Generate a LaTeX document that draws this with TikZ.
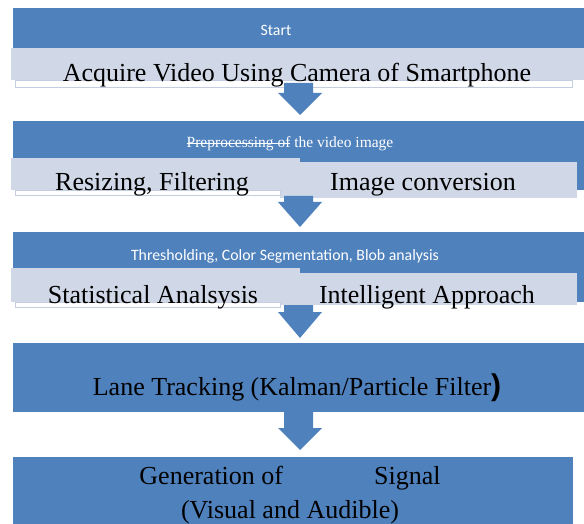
\documentclass[tikz,border=0pt]{standalone}
\usepackage{fontspec}
\setmainfont{Liberation Serif}
\newfontfamily\calib{Carlito}
\newfontfamily\arialf{Liberation Sans}
\definecolor{hblue}{HTML}{4F81BD}
\definecolor{lblue}{HTML}{D0D8E8}
\definecolor{sline}{HTML}{C4CEE0}
\newlength\strklen
\newcommand{\strk}[1]{\settowidth{\strklen}{#1}\rlap{\rule[0.3em]{\strklen}{0.6pt}}#1}
\tikzset{
  rbox/.style={inner sep=0pt, outer sep=0pt, anchor=north west, draw=none},
  head/.style={rbox, fill=hblue},
  lite/.style={rbox, fill=lblue},
  strip/.style={rbox, fill=white, draw=sline, line width=0.8pt},
  big/.style={anchor=base, inner sep=0pt, font=\rmfamily\fontsize{26}{30}\selectfont},
  smallw/.style={anchor=base, inner sep=0pt, text=white, font=\calib\fontsize{15.8}{18}\selectfont},
  serifw/.style={anchor=base, inner sep=0pt, text=white, font=\rmfamily\fontsize{15.5}{18}\selectfont},
}
\usetikzlibrary{calc}
\newcommand{\blkarrow}[3]{%
  \fill[hblue] ($(#1)+(-16,0)$) -- ($(#1)+(13,0)$) -- ($(#1)+(13,#2)$) -- ($(#1)+(22,#2)$)
    -- ($(#1)+(0,#3)$) -- ($(#1)+(-22,#2)$) -- ($(#1)+(-16,#2)$) -- cycle;}
\begin{document}
\begin{tikzpicture}[x=1pt,y=-1pt]
\useasboundingbox (0,0) rectangle (584,524);
% block 1
\node[head, minimum width=571pt, minimum height=40pt] (h1) at (13,8) {};
\node[strip, minimum width=557pt, minimum height=7pt] (s1) at (15,80) {};
\node[lite, minimum width=573pt, minimum height=32pt] (l1) at (11,48) {};
% block 2
\node[head, minimum width=571pt, minimum height=69pt] (h2) at (13,121) {};
\node[lite, minimum width=297pt, minimum height=36pt] (l2r) at (280,162) {};
\node[strip, minimum width=265pt, minimum height=5pt] (s2) at (15,190) {};
\node[lite, minimum width=289pt, minimum height=32pt] (l2l) at (11,158) {};
% block 3
\node[head, minimum width=571pt, minimum height=70pt] (h3) at (13,232) {};
\node[lite, minimum width=297pt, minimum height=32pt] (l3r) at (280,273) {};
\node[strip, minimum width=265pt, minimum height=5pt] (s3) at (15,302) {};
\node[lite, minimum width=289pt, minimum height=34pt] (l3l) at (11,268) {};
% block 4
\node[head, minimum width=571pt, minimum height=69pt] (h4) at (13,343) {};
% block 5
\node[head, minimum width=560pt, minimum height=70pt] (h5) at (13,457) {};
% arrows
\coordinate (a1) at (300,83);
\coordinate (a2) at (300,196);
\coordinate (a3) at (300,305);
\coordinate (a4) at (300,412);
\blkarrow{a1}{10}{32}
\blkarrow{a2}{6}{31}
\blkarrow{a3}{7}{33}
\blkarrow{a4}{16}{38}
% texts
\node[smallw] (t1) at (276,36) {Start};
\node[big] (t2) at (297,82) {Acquire Video Using Camera of Smartphone};
\node[serifw] (t3) at (290,148) {\strk{Preprocessing of} the video image};
\node[big] (t4) at (152,191) {Resizing, Filtering};
\node[big] (t5) at (423,191) {Image conversion};
\node[smallw] (t6) at (285,260) {Thresholding, Color Segmentation, Blob analysis};
\node[big] (t7) at (153,303) {Statistical Analsysis};
\node[big] (t8) at (427,303) {Intelligent Approach};
\node[big] (t9) at (297,395) {Lane Tracking (Kalman/Particle Filter{\arialf\bfseries\fontsize{30}{30}\selectfont)}};
\node[big] (t10) at (290,484) {Generation of\hspace*{91pt}Signal};
\node[big] (t11) at (290,518) {(Visual and Audible)};
\end{tikzpicture}
\end{document}
